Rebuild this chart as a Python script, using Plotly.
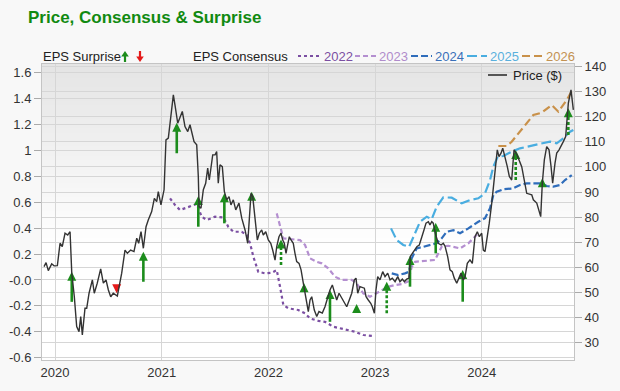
import plotly.graph_objects as go

# ---------------- data ----------------
price_points = [
    (2019.897, 60.3), (2019.916, 61.9), (2019.937, 58.7), (2019.969, 61.4), (2019.991, 60.6),
    (2020.022, 60.7), (2020.047, 69.6), (2020.068, 68.3), (2020.094, 73.6), (2020.119, 72.9),
    (2020.141, 74.2), (2020.157, 57.7), (2020.181, 48.3), (2020.203, 36.4), (2020.225, 34.4),
    (2020.241, 40.4), (2020.256, 33.1), (2020.281, 43.7), (2020.297, 43.7), (2020.319, 49.7),
    (2020.350, 55.0), (2020.368, 49.7), (2020.396, 53.7), (2020.428, 59.4), (2020.453, 53.7),
    (2020.478, 55.0), (2020.500, 51.0), (2020.522, 48.3), (2020.546, 49.7), (2020.584, 48.6),
    (2020.625, 57.7), (2020.656, 66.9), (2020.678, 65.6), (2020.709, 66.9), (2020.740, 66.3),
    (2020.766, 71.6), (2020.784, 69.6), (2020.806, 74.2), (2020.828, 67.6), (2020.853, 76.2),
    (2020.874, 78.9), (2020.906, 82.2), (2020.931, 87.5), (2020.953, 86.2), (2020.968, 90.2),
    (2020.993, 84.9), (2021.022, 90.9), (2021.040, 110.8), (2021.062, 111.5), (2021.084, 118.8),
    (2021.109, 128.7), (2021.125, 124.5), (2021.150, 117.4), (2021.193, 122.1), (2021.218, 116.1),
    (2021.244, 114.1), (2021.265, 116.8), (2021.303, 110.1), (2021.328, 108.8), (2021.343, 96.2),
    (2021.350, 84.2), (2021.368, 83.6), (2021.390, 90.9), (2021.412, 93.5), (2021.431, 99.5),
    (2021.446, 94.8), (2021.462, 100.1), (2021.478, 104.8), (2021.500, 104.8), (2021.515, 106.1),
    (2021.530, 93.5), (2021.546, 100.8), (2021.568, 100.1), (2021.587, 90.2), (2021.609, 86.9),
    (2021.631, 88.2), (2021.649, 84.9), (2021.671, 86.9), (2021.694, 82.9), (2021.724, 85.6),
    (2021.750, 79.6), (2021.781, 74.9), (2021.806, 69.6), (2021.837, 89.5), (2021.853, 88.2),
    (2021.874, 78.9), (2021.896, 70.9), (2021.915, 73.6), (2021.937, 74.9), (2021.952, 72.9),
    (2021.975, 74.2), (2021.999, 70.9), (2022.022, 69.6), (2022.040, 66.9), (2022.062, 62.9),
    (2022.078, 68.3), (2022.099, 72.2), (2022.118, 73.6), (2022.134, 70.9), (2022.149, 69.6),
    (2022.165, 65.6), (2022.177, 68.3), (2022.196, 72.2), (2022.212, 70.9), (2022.233, 69.6),
    (2022.249, 65.6), (2022.265, 62.3), (2022.287, 61.6), (2022.306, 59.0), (2022.327, 53.7),
    (2022.352, 48.3), (2022.374, 42.4), (2022.390, 47.0), (2022.406, 48.3), (2022.430, 43.0),
    (2022.453, 40.4), (2022.474, 42.4), (2022.505, 41.8), (2022.530, 44.3), (2022.556, 48.3),
    (2022.577, 51.0), (2022.599, 53.0), (2022.618, 49.7), (2022.640, 47.0), (2022.662, 49.7),
    (2022.711, 45.7), (2022.734, 44.3), (2022.758, 47.0), (2022.781, 49.7), (2022.805, 55.0),
    (2022.821, 55.7), (2022.837, 49.7), (2022.858, 52.3), (2022.899, 51.7), (2022.915, 48.3),
    (2022.936, 47.0), (2022.959, 45.7), (2022.974, 44.3), (2022.993, 41.7), (2023.008, 51.0),
    (2023.024, 56.3), (2023.046, 55.0), (2023.071, 58.3), (2023.093, 56.3), (2023.118, 57.7),
    (2023.140, 55.0), (2023.161, 55.7), (2023.187, 54.3), (2023.212, 56.3), (2023.233, 54.3),
    (2023.255, 55.3), (2023.274, 54.3), (2023.296, 55.3), (2023.318, 55.7), (2023.330, 64.3),
    (2023.349, 65.6), (2023.374, 66.9), (2023.393, 68.3), (2023.414, 68.9), (2023.437, 71.6),
    (2023.458, 74.9), (2023.477, 77.6), (2023.499, 78.2), (2023.514, 76.9), (2023.531, 78.2),
    (2023.545, 77.6), (2023.568, 72.9), (2023.592, 69.6), (2023.618, 68.9), (2023.639, 69.6),
    (2023.655, 68.5), (2023.680, 64.3), (2023.702, 59.0), (2023.723, 58.3), (2023.742, 55.7),
    (2023.765, 53.7), (2023.786, 55.7), (2023.805, 57.7), (2023.827, 55.0), (2023.843, 56.3),
    (2023.864, 61.6), (2023.889, 63.0), (2023.911, 61.6), (2023.936, 72.2), (2023.958, 74.2),
    (2023.977, 72.2), (2023.999, 73.6), (2024.014, 66.9), (2024.030, 66.3), (2024.052, 72.2),
    (2024.070, 77.6), (2024.093, 85.6), (2024.114, 93.5), (2024.130, 98.8), (2024.145, 106.8),
    (2024.161, 104.1), (2024.180, 105.5), (2024.196, 107.5), (2024.217, 104.1), (2024.239, 100.1),
    (2024.258, 96.2), (2024.280, 94.8), (2024.302, 106.8), (2024.330, 104.8), (2024.374, 100.1),
    (2024.421, 89.5), (2024.468, 88.9), (2024.483, 86.9), (2024.515, 85.6), (2024.536, 82.9),
    (2024.552, 80.2), (2024.567, 93.5), (2024.586, 102.8), (2024.608, 108.1), (2024.630, 106.8),
    (2024.649, 100.1), (2024.664, 93.5), (2024.686, 101.5), (2024.702, 105.5), (2024.724, 106.8),
    (2024.742, 108.1), (2024.764, 110.1), (2024.786, 112.1), (2024.811, 125.4), (2024.836, 130.7),
    (2024.858, 122.7),
]
price_t = [p[0] for p in price_points]
price_v = [p[1] for p in price_points]

c2022_t = [2021.078, 2021.125, 2021.172, 2021.249, 2021.328, 2021.375, 2021.422, 2021.500, 2021.577,
           2021.624, 2021.671, 2021.750, 2021.797, 2021.828, 2021.859, 2021.905, 2021.968, 2022.031,
           2022.078, 2022.109, 2022.140, 2022.187, 2022.280, 2022.343, 2022.390, 2022.468, 2022.530,
           2022.608, 2022.687, 2022.749, 2022.812, 2022.889, 2022.983]
c2022_v = [0.63, 0.578, 0.54, 0.565, 0.586, 0.488, 0.463, 0.488, 0.483, 0.41, 0.372, 0.372, 0.347,
           0.283, 0.179, 0.063, 0.051, 0.056, 0.076, -0.052, -0.194, -0.219, -0.232, -0.258, -0.297,
           -0.316, -0.323, -0.361, -0.374, -0.387, -0.40, -0.425, -0.433]

c2023_t = [2022.078, 2022.109, 2022.140, 2022.202, 2022.296, 2022.343, 2022.390, 2022.453, 2022.500,
           2022.561, 2022.624, 2022.687, 2022.781, 2022.827, 2022.889, 2022.952, 2023.015, 2023.062,
           2023.124, 2023.187, 2023.249, 2023.306, 2023.343, 2023.374, 2023.468, 2023.561, 2023.624,
           2023.686, 2023.796, 2023.874, 2023.952, 2023.983]
c2023_v = [0.514, 0.41, 0.321, 0.316, 0.308, 0.27, 0.167, 0.14, 0.128, 0.09, 0.025, 0.0, 0.0, -0.026,
           -0.103, -0.13, -0.103, -0.083, -0.052, -0.039, -0.032, -0.014, 0.10, 0.14, 0.146, 0.154,
           0.257, 0.264, 0.244, 0.283, 0.347, 0.36]

c2024_t = [2023.156, 2023.217, 2023.280, 2023.318, 2023.343, 2023.390, 2023.452, 2023.530, 2023.577,
           2023.624, 2023.671, 2023.733, 2023.796, 2023.874, 2023.967, 2024.030, 2024.077, 2024.108,
           2024.140, 2024.202, 2024.295, 2024.358, 2024.421, 2024.499, 2024.561, 2024.608, 2024.670,
           2024.733, 2024.780, 2024.843]
c2024_v = [0.051, 0.038, 0.051, 0.063, 0.167, 0.244, 0.256, 0.27, 0.283, 0.321, 0.372, 0.385, 0.36,
           0.398, 0.449, 0.476, 0.553, 0.656, 0.681, 0.70, 0.707, 0.733, 0.746, 0.746, 0.746, 0.725,
           0.72, 0.733, 0.771, 0.81]

c2025_t = [2023.149, 2023.202, 2023.264, 2023.318, 2023.374, 2023.421, 2023.484, 2023.530, 2023.577,
           2023.639, 2023.718, 2023.812, 2023.889, 2023.967, 2024.030, 2024.077, 2024.108, 2024.149,
           2024.202, 2024.280, 2024.358, 2024.452, 2024.546, 2024.639, 2024.702, 2024.764, 2024.827,
           2024.858]
c2025_v = [0.398, 0.308, 0.27, 0.256, 0.36, 0.449, 0.488, 0.468, 0.565, 0.638, 0.635, 0.591, 0.617,
           0.63, 0.669, 0.771, 0.874, 0.951, 0.957, 0.99, 1.016, 1.034, 1.055, 1.068, 1.055, 1.093,
           1.144, 1.158]

c2026_t = [2024.155, 2024.233, 2024.280, 2024.342, 2024.421, 2024.483, 2024.561, 2024.655, 2024.717,
           2024.796, 2024.858]
c2026_v = [1.034, 1.034, 1.067, 1.132, 1.209, 1.273, 1.291, 1.35, 1.299, 1.389, 1.48]

# EPS surprise: consensus (from) -> actual (to); dashed = 1 for dashed arrows
surp_t = [2020.157, 2020.578, 2020.828, 2021.141, 2021.343, 2021.587, 2021.843, 2022.118, 2022.334,
          2022.577, 2022.827, 2023.109, 2023.327, 2023.568, 2023.821, 2024.318, 2024.567, 2024.811]
surp_from = [-0.169, -0.04, -0.014, 0.978, 0.411, 0.437, 0.617, 0.115, -0.078, -0.323, -0.246,
             -0.258, -0.052, 0.205, -0.168, 0.771, 0.746, 1.119]
surp_to = [0.063, -0.103, 0.218, 1.214, 0.648, 0.669, 0.681, 0.313, -0.026, -0.078, -0.186, -0.014,
           0.185, 0.442, 0.076, 1.003, 0.785, 1.325]
surp_dashed = [0, 0, 0, 0, 0, 0, 0, 1, 0, 0, 0, 1, 0, 0, 0, 1, 0, 1]

year_ticks = [2020, 2021, 2022, 2023, 2024]
eps_ticks = [-0.6, -0.4, -0.2, 0.0, 0.2, 0.4, 0.6, 0.8, 1.0, 1.2, 1.4, 1.6]
eps_ticktext = ["-0.6", "-0.4", "-0.2", "-0.0", "0.2", "0.4", "0.6", "0.8", "1", "1.2", "1.4", "1.6"]
price_ticks = [30, 40, 50, 60, 70, 80, 90, 100, 110, 120, 130, 140]

series = [
    ("2022", c2022_t, c2022_v, "#7b4fa2", "dot", "#7b4fa2"),
    ("2023", c2023_t, c2023_v, "#b48fd0", "5px,3px", "#b08ccb"),
    ("2024", c2024_t, c2024_v, "#2f6dbb", "7px,3px", "#3a70b8"),
    ("2025", c2025_t, c2025_v, "#49ade0", "10px,4px", "#5ab0dd"),
    ("2026", c2026_t, c2026_v, "#c9914a", "8px,4px", "#c39252"),
]

# ---------------- figure ----------------
W, H = 620, 391
L, R, T, B = 42, 46, 64, 31
PW, PH = W - L - R, H - T - B
FONT = "Liberation Sans, Arial, Helvetica, sans-serif"
GREEN = "#1c8c1c"
RED = "#e41a1a"


def fx(px):
    return (px - L) / PW


def fy(py):
    return (H - B - py) / PH


fig = go.Figure()

for name, xs, ys, col, dash, _ in series:
    fig.add_trace(go.Scatter(x=xs, y=ys, mode="lines", yaxis="y",
                             line=dict(color=col, width=2.2, dash=dash),
                             hoverinfo="skip", showlegend=False))

fig.add_trace(go.Scatter(x=price_t, y=price_v, mode="lines", yaxis="y2",
                         line=dict(color="#333333", width=1.4),
                         showlegend=False, name="Price ($)"))

# surprise arrows
off = 3.0 / (PH / (1.667 + 0.618))
for dashed in (0, 1):
    xs, ys = [], []
    for t, a, b, d in zip(surp_t, surp_from, surp_to, surp_dashed):
        if d != dashed or b < a:
            continue
        xs += [t, t, None]
        ys += [a, b - off, None]
    fig.add_trace(go.Scatter(x=xs, y=ys, mode="lines", yaxis="y",
                             line=dict(color=GREEN, width=2.6, dash="3px,2px" if dashed else "solid"),
                             hoverinfo="skip", showlegend=False))
up_t = [t for t, a, b in zip(surp_t, surp_from, surp_to) if b >= a]
up_v = [b for a, b in zip(surp_from, surp_to) if b >= a]
dn_t = [t for t, a, b in zip(surp_t, surp_from, surp_to) if b < a]
dn_v = [b for a, b in zip(surp_from, surp_to) if b < a]
dn_from = [a for a, b in zip(surp_from, surp_to) if b < a]
fig.add_trace(go.Scatter(x=up_t, y=up_v, mode="markers", yaxis="y",
                         marker=dict(symbol="arrow-up", size=9, color=GREEN, line=dict(width=0)),
                         hoverinfo="skip", showlegend=False))
xs, ys = [], []
for t, a, b in zip(dn_t, dn_from, dn_v):
    xs += [t, t, None]
    ys += [a, b + off, None]
fig.add_trace(go.Scatter(x=xs, y=ys, mode="lines", yaxis="y",
                         line=dict(color=RED, width=2.6), hoverinfo="skip", showlegend=False))
fig.add_trace(go.Scatter(x=dn_t, y=dn_v, mode="markers", yaxis="y",
                         marker=dict(symbol="arrow-down", size=9, color=RED, line=dict(width=0)),
                         hoverinfo="skip", showlegend=False))

# background gradient in plot area
shapes = []
n = 40
for i in range(n):
    y1 = 1 - i * 0.62 / n
    y0 = 1 - (i + 1) * 0.62 / n - 0.003
    c = int(229 + (255 - 229) * (i / (n - 1)))
    shapes.append(dict(type="rect", xref="paper", yref="paper", x0=0, x1=1, y0=max(y0, 0), y1=y1,
                       fillcolor=f"rgb({c},{c},{c})", line=dict(width=0), layer="below"))

annotations = []


def text(px, py, s, color="#222222", size=13, anchor="left", bold=False):
    annotations.append(dict(x=fx(px), y=fy(py), xref="paper", yref="paper", text=(f"<b>{s}</b>" if bold else s),
                            showarrow=False, xanchor=anchor, yanchor="middle",
                            font=dict(family=FONT, size=size, color=color), borderpad=0))


text(27, 17, "Price, Consensus & Surprise", color="#118a11", size=17, bold=True)
text(42, 56, "EPS Surprise")
text(192, 56, "EPS Consensus")

# legend arrows for surprise
gx, rx = 125, 140
shapes.append(dict(type="line", xref="paper", yref="paper", x0=fx(gx), x1=fx(gx), y0=fy(62), y1=fy(55.5),
                   line=dict(color=GREEN, width=2.2)))
shapes.append(dict(type="path", xref="paper", yref="paper",
                   path=f"M {fx(gx-3.8)},{fy(56.5)} L {fx(gx)},{fy(51)} L {fx(gx+3.8)},{fy(56.5)} Z",
                   fillcolor=GREEN, line=dict(width=0)))
shapes.append(dict(type="line", xref="paper", yref="paper", x0=fx(rx), x1=fx(rx), y0=fy(51), y1=fy(57.5),
                   line=dict(color=RED, width=2.2)))
shapes.append(dict(type="path", xref="paper", yref="paper",
                   path=f"M {fx(rx-3.8)},{fy(56.5)} L {fx(rx)},{fy(62)} L {fx(rx+3.8)},{fy(56.5)} Z",
                   fillcolor=RED, line=dict(width=0)))

# consensus legend
leg_x = [(298, 321), (355, 376), (411, 432), (467, 487), (522, 543)]
for (name, xs, ys, col, dash, tcol), (a, b) in zip(series, leg_x):
    shapes.append(dict(type="line", xref="paper", yref="paper", x0=fx(a), x1=fx(b), y0=fy(56), y1=fy(56),
                       line=dict(color=col, width=2.2, dash=dash)))
    text(b + 1.5, 56, name, color=tcol)

# price legend
shapes.append(dict(type="line", xref="paper", yref="paper", x0=fx(488), x1=fx(507), y0=fy(75), y1=fy(75),
                   line=dict(color="#555555", width=2)))
text(512, 75, "Price ($)")

GRID = "#d6d6d6"
AXL = "#c4c4c4"
fig.update_layout(
    width=W, height=H,
    margin=dict(l=L, r=R, t=T, b=B, pad=0, autoexpand=False),
    paper_bgcolor="#f8f8f8", plot_bgcolor="#ffffff",
    showlegend=False,
    font=dict(family=FONT, size=13, color="#333333"),
    shapes=shapes, annotations=annotations,
    xaxis=dict(range=[2019.878, 2024.864], tickmode="array", tickvals=year_ticks,
               ticktext=[str(y) for y in year_ticks], showgrid=True, gridcolor=GRID, gridwidth=1,
               zeroline=False, showline=True, linecolor=AXL, mirror=True, ticks="",
               tickfont=dict(size=13, color="#333333"), automargin=False),
    yaxis=dict(range=[-0.618, 1.667], tickmode="array", tickvals=eps_ticks, ticktext=eps_ticktext,
               showgrid=True, gridcolor=GRID, gridwidth=1, zeroline=False, showline=True,
               linecolor=AXL, ticks="outside", ticklen=7, tickcolor="#aaaaaa", tickwidth=1,
               tickfont=dict(size=13, color="#333333"), automargin=False),
    yaxis2=dict(range=[23.1, 141.0], overlaying="y", side="right", tickmode="array",
                tickvals=price_ticks, showgrid=True, gridcolor=GRID, gridwidth=1, zeroline=False,
                showline=True, linecolor=AXL, ticks="outside", ticklen=7, tickcolor="#aaaaaa",
                tickwidth=1, tickfont=dict(size=13, color="#333333"), automargin=False),
)

fig.write_html("out.html", config={"displayModeBar": False},
               post_script="document.body.style.margin='0';document.body.style.overflow='hidden';")
